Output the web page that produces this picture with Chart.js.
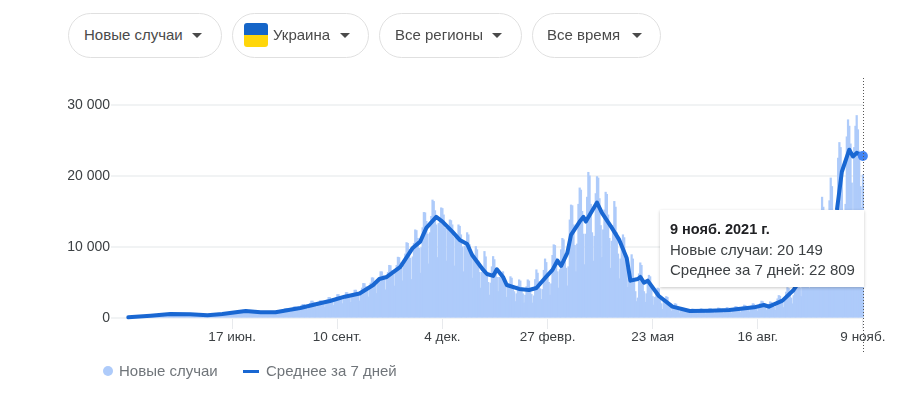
<!DOCTYPE html>
<html>
<head>
<meta charset="utf-8">
<script src="https://cdn.jsdelivr.net/npm/chart.js@4"></script>
<style>
  html, body { margin: 0; padding: 0; background: #fff; width: 900px; height: 395px; overflow: hidden; }
  body { font-family: "Liberation Sans", Arial, sans-serif; font-size: 15px; position: relative; }
  canvas { position: absolute; left: 0; top: 0; }
  .chip { position: absolute; top: 13px; height: 43px; border: 1px solid #e0e0e0; border-radius: 23px; box-sizing: content-box; background: #fff; color: #4a4a4a; }
  .chip span { position: absolute; top: 13px; white-space: nowrap; line-height: 16px; }
  .chip i { position: absolute; top: 19px; width: 0; height: 0; border-left: 5.5px solid transparent; border-right: 5.5px solid transparent; border-top: 5.5px solid #4a4a4a; }
  .flag { position: absolute; left: 11px; top: 9px; width: 24px; height: 24px; border-radius: 3px; overflow: hidden; }
  .flag b { display: block; height: 12px; }
  #tip { position: absolute; left: 660px; top: 210px; width: 204px; height: 77px; background: #fff; box-shadow: 0 1px 3px rgba(0,0,0,.22); color: #3c4043; }
  #tip div { position: absolute; left: 10px; white-space: nowrap; line-height: 16px; }
  #legend { position: absolute; top: 363px; left: 0; color: #70757a; }
  #legend span { position: absolute; top: 0; white-space: nowrap; line-height: 16px; }
  #legend i { position: absolute; display: block; }
</style>
</head>
<body>
<canvas id="chart" width="900" height="395"></canvas>

<div class="chip" style="left:68px;width:152px"><span style="left:15px">Новые случаи</span><i style="left:123px"></i></div>
<div class="chip" style="left:232px;width:135px"><div class="flag"><b style="background:#1565c8"></b><b style="background:#ffd60a"></b></div><span style="left:40px">Украина</span><i style="left:107px"></i></div>
<div class="chip" style="left:379px;width:141px"><span style="left:15px">Все регионы</span><i style="left:112px"></i></div>
<div class="chip" style="left:532px;width:127px"><span style="left:14px">Все время</span><i style="left:99px"></i></div>

<div id="tip">
  <div style="top:11px;font-weight:bold;font-size:14.5px;color:#202124">9 нояб. 2021 г.</div>
  <div style="top:32px">Новые случаи: 20 149</div>
  <div style="top:52px">Среднее за 7 дней: 22 809</div>
</div>

<div id="legend">
  <i style="left:103px;top:3px;width:10px;height:10px;border-radius:50%;background:#aecbfa"></i>
  <span style="left:119px">Новые случаи</span>
  <i style="left:243px;top:7px;width:16px;height:3px;background:#1967d2"></i>
  <span style="left:266px">Среднее за 7 дней</span>
</div>

<script>
// one row per week, Wed..Tue, first day is 25 march 2020
const newCases = [
  100,120,150,160,140,130,110,
  190,230,260,250,220,190,200,
  290,340,370,360,310,270,300,
  420,470,510,480,420,370,400,
  500,540,590,570,510,440,470,
  540,590,620,600,540,470,500,
  520,580,600,580,520,470,500,
  490,560,590,550,500,450,480,
  410,480,480,450,410,370,400,
  390,430,450,430,390,340,370,
  480,560,590,570,500,430,480,
  600,680,700,670,600,520,560,
  780,870,900,860,770,650,720,
  950,1040,1080,1020,900,760,850,
  870,960,990,950,850,720,800,
  800,880,900,860,770,660,730,
  790,860,890,850,760,660,720,
  860,940,960,920,820,700,770,
  1150,1320,1330,1210,1090,800,1150,
  1350,1550,1560,1420,1280,950,1350,
  1650,1900,1900,1730,1570,1150,1650,
  2050,2360,2360,2150,1950,1440,2050,
  2100,2420,2400,2200,2000,1470,2100,
  2500,2880,2870,2620,2380,1750,2500,
  2850,3280,3280,2990,2700,2000,2850,
  3100,3570,3560,3250,2950,2170,3100,
  3400,3900,3910,3570,3230,2380,3400,
  4200,4850,4830,4400,3990,2940,4200,
  4900,5650,5630,5150,4650,3430,4900,
  5650,6500,6490,5930,5370,3950,5650,
  6400,7400,7350,6700,6080,4480,6400,
  7400,8550,8500,7750,7000,5200,7400,
  9000,10600,10500,9650,8400,5400,8600,
  10500,12400,12300,11200,9800,6300,9900,
  12700,14850,14800,13600,11800,7600,12000,
  14300,16600,16400,15100,13100,8500,13300,
  13600,15500,15400,14500,12600,8000,12700,
  12400,13800,13700,13100,11400,7300,11500,
  11200,13100,12900,11700,10000,6500,10100,
  10300,12000,11700,10300,8700,5600,8700,
  8000,10050,9600,8000,6400,4200,6400,
  7000,9350,8600,6400,5000,3200,4900,
  7200,8640,8200,6900,5700,3700,5700,
  5600,6400,6500,5500,4600,2900,4500,
  4800,5800,5600,4500,3700,2300,3400,
  4500,5360,5200,4200,3400,2100,3200,
  4400,5360,5200,4100,3300,2100,3100,
  5400,6770,6300,5100,4100,2600,4000,
  6700,8300,7800,6300,5000,3200,4800,
  8800,10300,10200,8400,6500,4200,6800,
  9600,11200,11000,9000,7000,4500,7200,
  13800,15900,15800,13100,10200,6500,10400,
  16000,18300,18000,15000,11800,7500,11800,
  17000,20500,20000,16000,12000,8000,11500,
  17500,19900,19700,16800,13000,8500,12400,
  15200,17700,17400,14500,11200,7000,10800,
  13000,16400,15600,12000,9000,5500,8300,
  9800,11700,11300,9000,7000,4300,6100,
  6500,8900,8300,5500,3700,2300,2800,
  6200,7750,7400,5300,3700,2200,3400,
  5000,6000,5800,4300,3000,1800,2900,
  3500,4200,4100,2900,2000,1200,2400,
  2500,3000,2900,2100,1500,950,1750,
  1700,2000,1950,1450,1050,680,1300,
  1150,1350,1300,1050,880,620,1000,
  1080,1260,1220,980,830,590,930,
  1100,1290,1250,1000,850,600,950,
  1150,1340,1300,1040,880,620,990,
  1200,1400,1360,1090,930,650,1040,
  1250,1470,1420,1140,970,680,1080,
  1380,1610,1560,1250,1060,750,1190,
  1540,1800,1750,1400,1190,840,1330,
  1700,2000,1940,1550,1320,930,1470,
  2010,2360,2290,1830,1560,1100,1740,
  1920,2260,2190,1750,1490,1050,1660,
  2680,3150,3050,2440,2070,1460,2320,
  3630,4260,4130,3300,2800,1980,3140,
  5500,6450,6250,5000,4250,3000,4750,
  7600,8900,8630,6900,5870,4140,6560,
  9460,11100,10750,8600,7310,5160,8170,
  13800,17000,15600,11700,9000,6000,9200,
  16500,19700,18500,14500,10500,7500,11500,
  22500,24700,24000,21000,15000,10500,16000,
  25500,27900,27000,24500,19000,14000,24000,
  27000,28500,26500,23500,18500,15500,20149
]

const avgDays = [0,18,34,50,64,76,90,95,107,119,139,155,163,175,187,198,203,209,220,230,236,241,249,254,262,268,274,278,287,290,295,298,303,306,316,324,330,338,343,347,350,355,358,365,368,370,379,383,391,397,403,406,412,414,417,420,429,440,454,470,486,506,514,518,529,538,546,554,563,568,573,577,583,586,589,594]
const avgValues = [100,320,560,520,380,560,880,980,800,800,1400,2070,2400,3000,3450,4650,5500,5780,7200,9870,10760,12700,14240,13580,12170,11000,10430,8880,6770,6200,5920,6870,5780,4650,4090,3950,4230,5820,6770,8080,7330,9165,11700,13580,14240,13580,16260,14800,12700,11000,8460,5260,5500,5780,4980,5260,3100,1600,990,1030,1130,1500,1830,1600,2440,3950,6000,8200,11000,12700,15200,20600,23700,22750,23260,22809]

const tickDays = [84,169,254,339,424,509,594]
const tickLabels = ['17 июн.','10 сент.','4 дек.','27 февр.','23 мая','16 авг.','9 нояб.']
const yTicks = [0,10000,20000,30000]
const yTickLabels = ['0','10 000','20 000','30 000']
const selectedDay = 594

const hoverLine = {
  id: 'hoverLine',
  afterDatasetsDraw(chart) {
    const x = chart.scales.x.getPixelForValue(selectedDay)
    const ctx = chart.ctx
    ctx.save()
    ctx.strokeStyle = '#555'
    ctx.lineWidth = 1
    ctx.setLineDash([1, 2])
    ctx.beginPath()
    ctx.moveTo(Math.round(x) + 0.5, 78)
    ctx.lineTo(Math.round(x) + 0.5, 353)
    ctx.stroke()
    ctx.restore()
  }
}

new Chart(document.querySelector('#chart'), {
  data: {
    datasets: [{
      type: 'bar',
      label: 'Новые случаи',
      data: newCases.map((y, i) => ({ x: i, y })),
      backgroundColor: '#aecbfa',
      barPercentage: 1,
      categoryPercentage: 1,
      inflateAmount: 0.5,
      clip: false,
      order: 2
    }, {
      type: 'line',
      label: 'Среднее за 7 дней',
      data: avgDays.map((x, i) => ({ x, y: avgValues[i] })),
      borderColor: '#1967d2',
      borderWidth: 4,
      borderCapStyle: 'round',
      borderJoinStyle: 'round',
      tension: 0,
      clip: false,
      pointRadius: ctx => ctx.raw && ctx.raw.x === selectedDay ? 5 : 0,
      pointBackgroundColor: '#4285f4',
      pointBorderWidth: 0,
      order: 1
    }]
  },
  options: {
    responsive: false,
    animation: false,
    events: [],
    layout: { padding: { left: 68, right: 36.5, top: 105, bottom: 41 } },
    plugins: { legend: { display: false }, tooltip: { enabled: false } },
    scales: {
      x: {
        type: 'linear',
        offset: false,
        min: -14,
        max: 594.5,
        afterBuildTicks: scale => { scale.ticks = tickDays.map(value => ({ value })) },
        afterFit: scale => { scale.height = 36 },
        border: { display: false },
        grid: { offset: false, drawOnChartArea: false, color: '#e8eaed', tickLength: 11 },
        ticks: {
          autoSkip: false,
          maxRotation: 0,
          padding: 0,
          color: '#3c4043',
          font: { family: '"Liberation Sans", Arial', size: 13.5 },
          callback: value => tickLabels[tickDays.indexOf(value)]
        }
      },
      y: {
        min: 0,
        max: 30000,
        afterBuildTicks: scale => { scale.ticks = yTicks.map(value => ({ value })) },
        afterFit: scale => { scale.width = 43 },
        border: { display: false },
        grid: { color: '#f1f3f4', lineWidth: 2, tickLength: 0 },
        ticks: {
          padding: 1,
          color: '#3c4043',
          font: { family: '"Liberation Sans", Arial', size: 14 },
          callback: value => yTickLabels[yTicks.indexOf(value)]
        }
      }
    }
  },
  plugins: [hoverLine]
})
</script>
</body>
</html>
